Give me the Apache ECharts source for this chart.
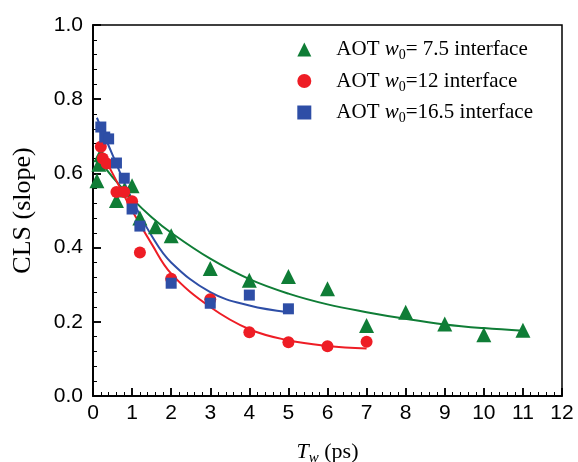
<!DOCTYPE html>
<html><head><meta charset="utf-8">
<script src="https://cdn.jsdelivr.net/npm/echarts@6/dist/echarts.min.js"></script>
<style>html,body{margin:0;padding:0;background:#fff}#c{width:578px;height:462px}</style>
</head><body><div id="c"></div>
<script>
// Data
const greenX = [0.1, 0.15, 0.2, 0.6, 0.8, 1.0, 1.2, 1.6, 2, 3, 4, 5, 6, 7, 8, 9, 10, 11];
const greenY = [0.58, 0.625, 0.65, 0.527, 0.555, 0.567, 0.48, 0.456, 0.432, 0.344, 0.312, 0.322, 0.289, 0.19, 0.226, 0.194, 0.165, 0.177];
const redX = [0.2, 0.25, 0.35, 0.6, 0.8, 1.0, 1.2, 2, 3, 4, 5, 6, 7];
const redY = [0.672, 0.64, 0.627, 0.55, 0.55, 0.525, 0.387, 0.316, 0.261, 0.172, 0.145, 0.134, 0.146];
const blueX = [0.2, 0.3, 0.4, 0.6, 0.8, 1.0, 1.2, 2, 3, 4, 5];
const blueY = [0.725, 0.698, 0.693, 0.628, 0.587, 0.504, 0.458, 0.304, 0.25, 0.272, 0.235];
// Fit curves
const greenFitX = [0.1, 0.5, 1, 1.5, 2, 3, 4, 5, 6, 7, 8, 9, 10, 11];
const greenFitY = [0.645, 0.59, 0.532, 0.482, 0.44, 0.37, 0.315, 0.276, 0.247, 0.226, 0.208, 0.193, 0.183, 0.176];
const redFitX = [0.1, 0.5, 1, 1.5, 2, 3, 4, 5, 6, 7];
const redFitY = [0.68, 0.6, 0.5, 0.41, 0.33, 0.24, 0.18, 0.15, 0.135, 0.128];
const blueFitX = [0.1, 0.5, 1, 1.5, 2, 3, 4, 5];
const blueFitY = [0.75, 0.65, 0.53, 0.432, 0.36, 0.28, 0.244, 0.226];
const xTicks = [0,1,2,3,4,5,6,7,8,9,10,11,12];
const yTicks = [0.0,0.2,0.4,0.6,0.8,1.0];
const names = ['AOT w0= 7.5 interface','AOT w0=12 interface','AOT w0=16.5 interface'];

const GREEN = '#0f7d36', RED = '#ee1d25', BLUE = '#2e4ea6';
const zip = (a, b) => a.map((v, i) => [v, b[i]]);
const serif = 'Liberation Serif';

const chart = echarts.init(document.getElementById('c'));
function legendFmt(name) {
  const m = name.match(/^AOT w0=(.*)$/);
  return '{n|AOT }{i|w}{s|0}{n|=' + m[1] + '}';
}
const lineStyle = {color: '#000', width: 1.5};
function tickStyle() { return {show: true, inside: true, length: 8, lineStyle: {width: 1.5}}; }
function minorStyle() { return {show: true, splitNumber: 5, length: 4, lineStyle: {color: '#000', width: 1}}; }
chart.setOption({
  animation: false,
  grid: {left: 93, top: 25, right: 16, bottom: 66, show: true, borderColor: '#000', borderWidth: 1.5,
    outerBoundsMode: 'none'},
  xAxis: [{
    type: 'value', min: 0, max: 12, interval: 1,
    axisLine: {show: true, onZero: false, lineStyle: lineStyle},
    axisTick: tickStyle(), minorTick: minorStyle(),
    splitLine: {show: false},
    axisLabel: {color: '#000', fontSize: 21, fontFamily: 'Liberation Sans', margin: 7,
      formatter: v => xTicks.includes(v) ? String(v) : ''},
    name: '{i|T}{s|w}{n| (ps)}', nameLocation: 'middle', nameGap: 42,
    nameTextStyle: {rich: {
      i: {fontFamily: serif, fontStyle: 'italic', fontSize: 22, color: '#000', lineHeight: 28},
      s: {fontFamily: serif, fontStyle: 'italic', fontSize: 15, color: '#000', verticalAlign: 'bottom', lineHeight: 15},
      n: {fontFamily: serif, fontSize: 22, color: '#000', lineHeight: 28}
    }}
  }, {
    // tick-only companion axis
    type: 'value', min: 0, max: 12, interval: 1, position: 'bottom', offset: 0,
    axisLine: {show: true, onZero: false, lineStyle: lineStyle}, axisLabel: {show: false},
    axisTick: tickStyle(), minorTick: minorStyle(), splitLine: {show: false}
  }],
  yAxis: [{
    type: 'value', min: 0, max: 1, interval: 0.2,
    axisLine: {show: true, onZero: false, lineStyle: lineStyle},
    axisTick: tickStyle(), minorTick: minorStyle(),
    splitLine: {show: false},
    axisLabel: {color: '#000', fontSize: 21, fontFamily: 'Liberation Sans', margin: 10,
      formatter: v => yTicks.some(t => Math.abs(t - v) < 1e-9) ? v.toFixed(1) : ''},
    name: 'CLS (slope)', nameLocation: 'middle', nameGap: 57,
    nameTextStyle: {fontFamily: serif, fontSize: 26, color: '#000'}
  }, {
    type: 'value', min: 0, max: 1, interval: 0.2, position: 'left', offset: 0,
    axisLine: {show: true, onZero: false, lineStyle: lineStyle}, axisLabel: {show: false},
    axisTick: tickStyle(), minorTick: minorStyle(), splitLine: {show: false}
  }],
  legend: {
    right: 40, top: 34, orient: 'vertical', itemGap: 8, itemWidth: 14, itemHeight: 14,
    data: names,
    formatter: legendFmt,
    textStyle: {padding: [0,0,0,20], rich: {
      n: {fontFamily: serif, fontSize: 21, color: '#000', lineHeight: 26},
      i: {fontFamily: serif, fontStyle: 'italic', fontSize: 21, color: '#000', lineHeight: 26},
      s: {fontFamily: serif, fontSize: 14, color: '#000', verticalAlign: 'bottom', lineHeight: 13}
    }}
  },
  series: [
    {name: names[0], type: 'scatter', data: zip(greenX, greenY), symbol: 'triangle', symbolSize: 15, itemStyle: {color: GREEN, opacity: 1}, z: 3},
    {name: names[1], type: 'scatter', data: zip(redX, redY), symbol: 'circle', symbolSize: 12, itemStyle: {color: RED, opacity: 1}, z: 3},
    {name: names[2], type: 'scatter', data: zip(blueX, blueY), symbol: 'rect', symbolSize: 11, itemStyle: {color: BLUE, opacity: 1}, z: 3},
    {type: 'line', data: zip(greenFitX, greenFitY), smooth: 0.4, showSymbol: false, symbol: 'none', lineStyle: {color: GREEN, width: 2}, z: 2, silent: true},
    {type: 'line', data: zip(redFitX, redFitY), smooth: 0.4, showSymbol: false, symbol: 'none', lineStyle: {color: RED, width: 2}, z: 2, silent: true},
    {type: 'line', data: zip(blueFitX, blueFitY), smooth: 0.4, showSymbol: false, symbol: 'none', lineStyle: {color: BLUE, width: 2}, z: 2, silent: true}
  ]
});
</script></body></html>
